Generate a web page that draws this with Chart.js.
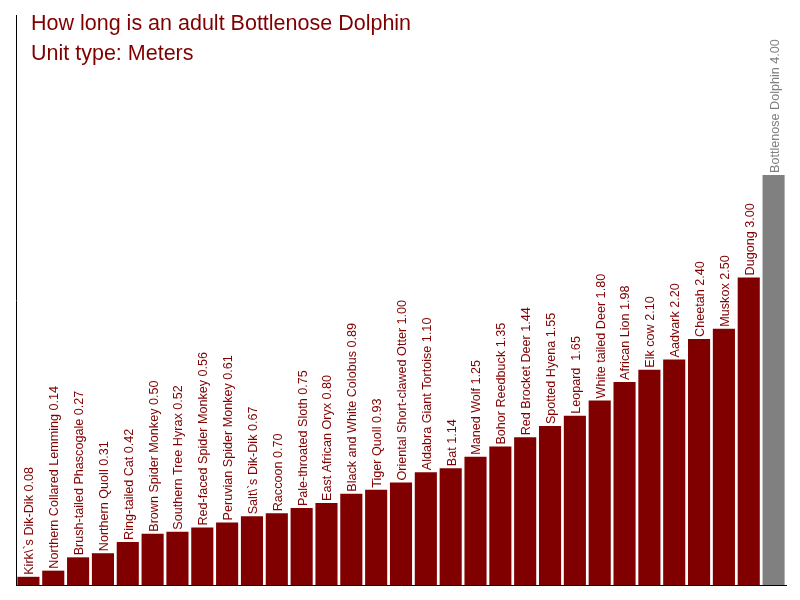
<!DOCTYPE html>
<html>
<head>
<meta charset="utf-8">
<script src="https://cdn.jsdelivr.net/npm/chart.js@4"></script>
<style>
html,body{margin:0;padding:0;background:#fff;}
#wrap{width:800px;height:600px;}
</style>
</head>
<body>
<div id="wrap"><canvas id="c" width="800" height="600"></canvas></div>
<script>
const titleLines = ["How long is an adult Bottlenose Dolphin", "Unit type: Meters"];
const animals = ["Kirk\\`s Dik-Dik", "Northern Collared Lemming", "Brush-tailed Phascogale", "Northern Quoll", "Ring-tailed Cat", "Brown Spider Monkey", "Southern Tree Hyrax", "Red-faced Spider Monkey", "Peruvian Spider Monkey", "Salt\\`s Dik-Dik", "Raccoon", "Pale-throated Sloth", "East African Oryx", "Black and White Colobus", "Tiger Quoll", "Oriental Short-clawed Otter", "Aldabra Giant Tortoise", "Bat", "Maned Wolf", "Bohor Reedbuck", "Red Brocket Deer", "Spotted Hyena", "Leopard ", "White tailed Deer", "African Lion", "Elk cow", "Aadvark", "Cheetah", "Muskox", "Dugong", "Bottlenose Dolphin"];
const lengths = [0.08, 0.14, 0.27, 0.31, 0.42, 0.50, 0.52, 0.56, 0.61, 0.67, 0.70, 0.75, 0.80, 0.89, 0.93, 1.00, 1.10, 1.14, 1.25, 1.35, 1.44, 1.55, 1.65, 1.80, 1.98, 2.10, 2.20, 2.40, 2.50, 3.00, 4.00];
const highlight = "Bottlenose Dolphin";

const barColors = animals.map(a => a === highlight ? '#808080' : '#800000');

const labelPlugin = {
  id: 'barLabels',
  afterDatasetsDraw(chart) {
    const ctx = chart.ctx;
    const meta = chart.getDatasetMeta(0);
    ctx.save();
    ctx.font = '12.6px "Liberation Sans", Arial, sans-serif';
    ctx.textBaseline = 'alphabetic';
    ctx.textAlign = 'left';
    meta.data.forEach((bar, i) => {
      const left = bar.x - bar.width / 2;
      ctx.save();
      ctx.translate(left + 16, bar.y - 2);
      ctx.rotate(-Math.PI / 2);
      ctx.fillStyle = barColors[i];
      ctx.fillText(animals[i] + ' ' + lengths[i].toFixed(2), 0, 0);
      ctx.restore();
    });
    ctx.restore();
  }
};

const titlePlugin = {
  id: 'overlayTitle',
  afterDraw(chart) {
    const ctx = chart.ctx;
    ctx.save();
    ctx.font = '21.5px "Liberation Sans", Arial, sans-serif';
    ctx.fillStyle = '#800000';
    ctx.textBaseline = 'alphabetic';
    ctx.textAlign = 'left';
    ctx.fillText(titleLines[0], 31, 30);
    ctx.fillText(titleLines[1], 31, 60);
    ctx.restore();
  }
};

new Chart(document.getElementById('c'), {
  type: 'bar',
  data: {
    labels: animals,
    datasets: [{
      data: lengths,
      backgroundColor: barColors,
      borderWidth: 0,
      barPercentage: 0.89,
      categoryPercentage: 1.0
    }]
  },
  options: {
    responsive: false,
    animation: false,
    layout: { padding: { left: 16, right: 14, top: 15, bottom: 15 } },
    plugins: { legend: { display: false }, tooltip: { enabled: false }, title: { display: false } },
    scales: {
      x: {
        display: true,
        ticks: { display: false },
        grid: { display: false, drawTicks: false },
        border: { display: true, color: '#000', width: 1 }
      },
      y: {
        display: true,
        min: 0,
        max: 5.56,
        ticks: { display: false },
        grid: { display: false, drawTicks: false },
        border: { display: true, color: '#000', width: 1 }
      }
    }
  },
  plugins: [labelPlugin, titlePlugin]
});
</script>
</body>
</html>
